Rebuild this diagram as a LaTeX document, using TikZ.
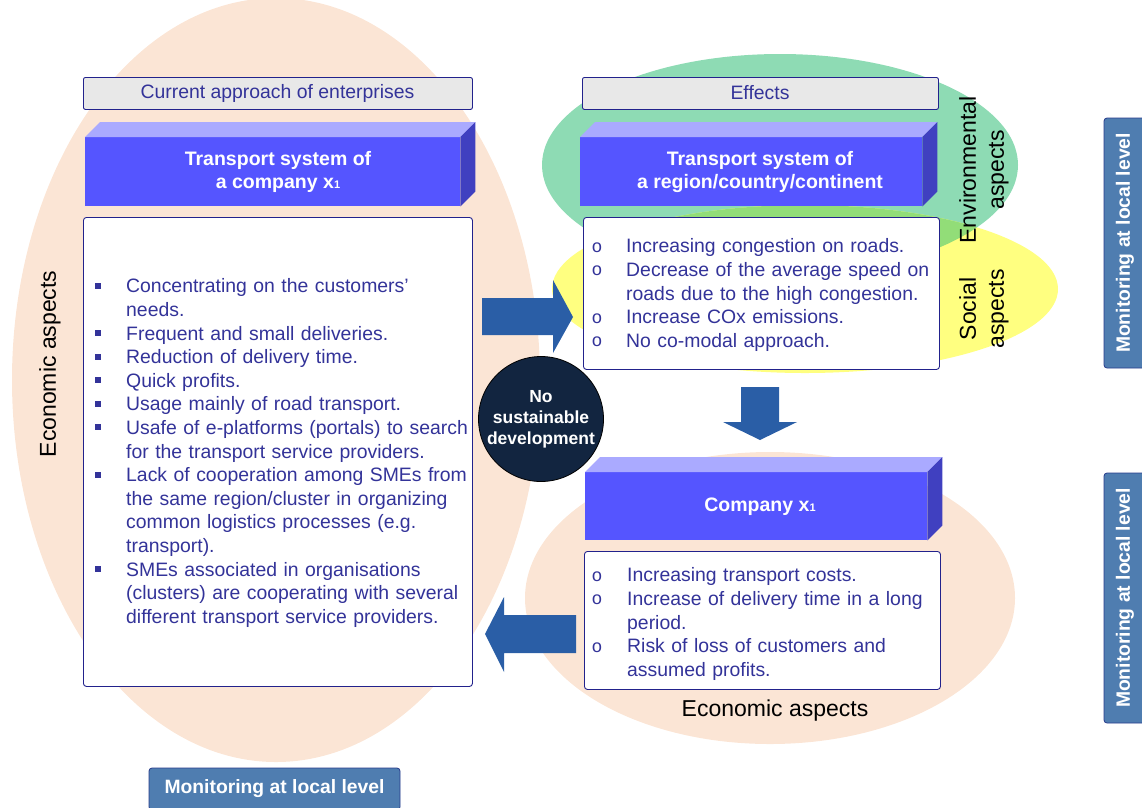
\documentclass[tikz,border=0pt]{standalone}
\usepackage{fontspec}
\setmainfont{Liberation Sans}
\newfontfamily\bulletmono{Liberation Mono}
\usetikzlibrary{calc}
\definecolor{peach}{RGB}{251,229,213}
\definecolor{envgreen}{RGB}{142,219,180}
\definecolor{socyellow}{RGB}{255,255,128}
\definecolor{overlap}{RGB}{146,221,120}
\definecolor{frontblue}{RGB}{85,85,255}
\definecolor{topblue}{RGB}{170,170,255}
\definecolor{sideblue}{RGB}{64,64,192}
\definecolor{arrowblue}{RGB}{42,94,166}
\definecolor{navy}{RGB}{18,37,64}
\definecolor{monblue}{RGB}{79,125,176}
\definecolor{monborder}{RGB}{40,60,140}
\definecolor{tblue}{RGB}{51,51,153}
\definecolor{bordblue}{RGB}{34,34,140}
\definecolor{hdrgray}{RGB}{232,232,232}
\newcommand{\bodyfont}{\fontsize{19.4}{23.6}\selectfont}
\newcommand{\boldfont}{\fontsize{19.5}{23}\selectfont\bfseries}
\newcommand{\aspfont}{\fontsize{23}{28}\selectfont}
\newcommand{\monfont}{\fontsize{19.3}{23}\selectfont\bfseries}
\newcommand{\circfont}{\fontsize{17.5}{21}\selectfont\bfseries}
\newcommand{\subone}{{\fontsize{11}{11}\selectfont 1}}
\newcommand{\sqitm}[1]{\par\noindent\hangindent=31pt\hangafter=1 \makebox[31pt][l]{\rule[4pt]{6pt}{6pt}}#1}
\newcommand{\citm}[2]{\par\noindent\hangindent=#1pt\hangafter=1 \makebox[#1pt][l]{\hspace{-1.5pt}\raisebox{0.5pt}{\bulletmono\fontsize{18}{18}\selectfont o}}#2}
\newcommand{\cube}[5]{% name, x, y (front top-left), w, h
  \node[front, minimum width=#4, minimum height=#5, anchor=north west] (#1) at (#2,#3) {};
  \fill[topblue] (#1.north west) -- ++(15,-15) -- ($(#1.north east)+(15,-15)$) -- (#1.north east) -- cycle;
  \fill[sideblue] (#1.north east) -- ++(15,-15) -- ($(#1.south east)+(15,-15)$) -- (#1.south east) -- cycle;
}
\begin{document}
\begin{tikzpicture}[x=1pt,y=-1pt,
  hdr/.style={draw=bordblue, fill=hdrgray, rounded corners=2, line width=0.9pt, text=tblue, font=\bodyfont, inner sep=0},
  tbox/.style={draw=bordblue, fill=white, rounded corners=3, line width=0.9pt, inner sep=0},
  front/.style={fill=frontblue, inner sep=0},
  cubetxt/.style={text=white, font=\boldfont, align=center, inner sep=0},
  mon/.style={draw=monborder, fill=monblue, rounded corners=3, line width=0.8pt, text=white, font=\monfont, inner sep=0},
  aspect/.style={font=\aspfont, text=black, align=center, inner sep=0},
  itemtext/.style={anchor=north west, inner sep=0, font=\bodyfont, text=tblue},
  barrow/.style={fill=arrowblue}]
\useasboundingbox (0,0) rectangle (1142,807);
% background ellipses
\fill[peach] (276,380) ellipse [x radius=264, y radius=382];
\fill[peach] (770,598) ellipse [x radius=245, y radius=146];
\fill[envgreen] (780,165) ellipse [x radius=238, y radius=111];
\fill[socyellow] (805,289) ellipse [x radius=253, y radius=84];
\begin{scope}
  \clip (780,165) ellipse [x radius=238, y radius=111];
  \fill[overlap] (805,289) ellipse [x radius=253, y radius=84];
\end{scope}
% headers
\node[hdr, minimum width=389, minimum height=32, anchor=north west] (hdrL) at (83,77) {};
\node[text=tblue, font=\bodyfont, inner sep=0] (hdrLt) at (277.5,93) {Current approach of enterprises};
\node[hdr, minimum width=356, minimum height=32, anchor=north west] (hdrR) at (582,77) {};
\node[text=tblue, font=\bodyfont, inner sep=0] (hdrRt) at (760,93) {Effects};
% cubes
\cube{cubeL}{85}{137}{375}{69}
\node[cubetxt] (cubeLt) at (278,172) {Transport system of\\a company x\subone};
\cube{cubeR}{580}{137}{342}{69}
\node[cubetxt] (cubeRt) at (760,172) {Transport system of\\a region/country/continent};
\cube{cubeB}{585}{472}{342}{68}
\node[cubetxt] (cubeBt) at (760,507) {Company x\subone};
% text boxes
\node[tbox, minimum width=389, minimum height=469, anchor=north west] (boxL) at (83,217) {};
\node[tbox, minimum width=356, minimum height=152, anchor=north west] (boxRT) at (583,217) {};
\node[tbox, minimum width=356, minimum height=138, anchor=north west] (boxRB) at (584,551) {};
\node[itemtext, text width=400] (txtL) at (95,269) {%
\sqitm{Concentrating on the customers’\newline needs.}%
\sqitm{Frequent and small deliveries.}%
\sqitm{Reduction of delivery time.}%
\sqitm{Quick profits.}%
\sqitm{Usage mainly of road transport.}%
\sqitm{Usafe of e-platforms (portals) to search\newline for the transport service providers.}%
\sqitm{Lack of cooperation among SMEs from\newline the same region/cluster in organizing\newline common logistics processes (e.g.\newline transport).}%
\sqitm{SMEs associated in organisations\newline (clusters) are cooperating with several\newline different transport service providers.}\par};
\node[itemtext, text width=380] (txtRT) at (593,229) {%
\citm{33}{Increasing congestion on roads.}%
\citm{33}{Decrease of the average speed on\newline roads due to the high congestion.}%
\citm{33}{Increase COx emissions.}%
\citm{33}{No co-modal approach.}\par};
\node[itemtext, text width=380] (txtRB) at (593,558) {%
\citm{34}{Increasing transport costs.}%
\citm{34}{Increase of delivery time in a long\newline period.}%
\citm{34}{Risk of loss of customers and\newline assumed profits.}\par};
% block arrows
\fill[barrow] (482,298) -- (553,298) -- (553,280) -- (573,317) -- (553,353) -- (553,335) -- (482,335) -- cycle;
\fill[barrow] (741,387) -- (779,387) -- (779,422) -- (797,422) -- (760,440) -- (723,422) -- (741,422) -- cycle;
\fill[barrow] (576,615) -- (504,615) -- (504,597) -- (485,634) -- (504,672) -- (504,653) -- (576,653) -- cycle;
% circle
\node[circle, fill=navy, draw=black, line width=0.8pt, minimum size=125, inner sep=0, text=white, font=\circfont, align=center] (nosd) at (541,419) {No\\sustainable\\development};
% aspect labels
\node[aspect, rotate=90] (ecoL) at (50,364) {Economic aspects};
\node[aspect, rotate=90] (env) at (984,170) {Environmental\\aspects};
\node[aspect, rotate=90] (soc) at (984,309) {Social\\aspects};
\node[aspect] (ecoR) at (775,711) {Economic aspects};
% monitoring boxes
\node[mon, rotate=90, minimum width=250, minimum height=42] (monR1) at (1125,243) {Monitoring at local level};
\node[mon, rotate=90, minimum width=250, minimum height=42] (monR2) at (1125,598) {Monitoring at local level};
\node[mon, minimum width=251, minimum height=42] (monB) at (274.5,789) {Monitoring at local level};
\end{tikzpicture}
\end{document}
